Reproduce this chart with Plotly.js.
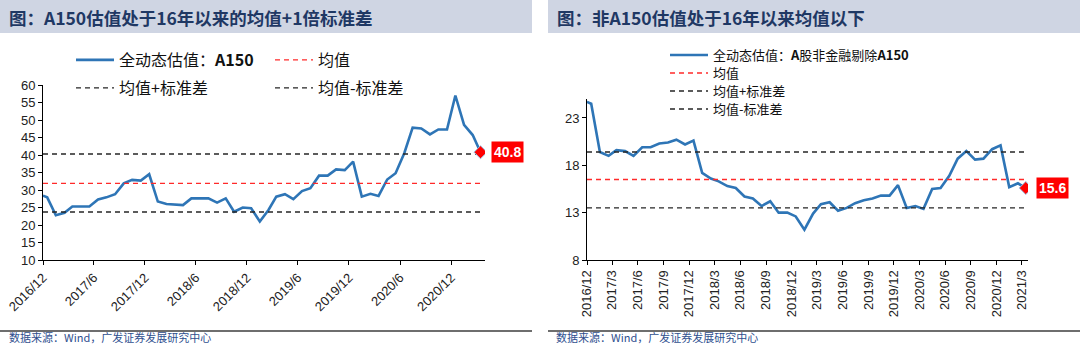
<!DOCTYPE html>
<html>
<head>
<meta charset="utf-8">
<script src="https://cdn.plot.ly/plotly-3.0.1.min.js"></script>
<style>
html,body{margin:0;padding:0;background:#fff;}
#chart{width:1080px;height:352px;}
</style>
</head>
<body>
<div id="chart"></div>
<script>
// ---- data ----
const dates = ["2016-12-01","2016-12-16","2017-01-16","2017-02-16","2017-03-16","2017-04-16","2017-05-16","2017-06-16","2017-07-16","2017-08-16","2017-09-16","2017-10-16","2017-11-16","2017-12-16",
"2018-01-16","2018-02-16","2018-03-16","2018-04-16","2018-05-16","2018-06-16","2018-07-16","2018-08-16","2018-09-16","2018-10-16","2018-11-16","2018-12-16",
"2019-01-16","2019-02-16","2019-03-16","2019-04-16","2019-05-16","2019-06-16","2019-07-16","2019-08-16","2019-09-16","2019-10-16","2019-11-16","2019-12-16",
"2020-01-16","2020-02-16","2020-03-16","2020-04-16","2020-05-16","2020-06-16","2020-07-16","2020-08-16","2020-09-16","2020-10-16","2020-11-16","2020-12-16",
"2021-01-16","2021-02-16","2021-03-16"];

const a150 = [28.4,27.9,22.8,23.5,25.3,25.3,25.3,27.3,27.9,28.8,31.9,32.9,32.7,34.5,
26.7,26.0,25.9,25.7,27.6,27.6,27.6,26.4,27.6,23.8,25.0,24.8,
21.0,24.3,28.1,28.8,27.4,29.7,30.5,34.1,34.1,35.9,35.7,38.1,
28.1,28.9,28.3,33.0,34.8,40.5,47.8,47.6,45.9,47.3,47.3,57.0,
48.6,45.7,40.8];

const nonA150 = [24.7,24.5,19.4,19.0,19.6,19.5,19.0,19.9,19.9,20.3,20.4,20.7,20.2,20.6,
17.2,16.6,16.3,15.8,15.6,14.7,14.5,13.7,14.2,13.0,13.0,12.6,
11.2,12.9,13.9,14.1,13.2,13.5,14.0,14.3,14.5,14.8,14.8,15.9,
13.5,13.7,13.4,15.5,15.6,16.9,18.7,19.5,18.6,18.7,19.7,20.1,
15.7,16.1,15.6];

const a150Stats = [31.9, 40.3, 23.7];   // mean, mean+sd, mean-sd
const nonStats = [16.5, 19.4, 13.5];    // mean, mean+sd, mean-sd

const titleLeft = "图：A150估值处于16年以来的均值+1倍标准差";
const titleRight = "图：非A150估值处于16年以来均值以下";
const sourceText = "数据来源：Wind，广发证券发展研究中心";
const namesLeft = ["全动态估值：<b>A150</b>","均值","均值+标准差","均值-标准差"];
const namesRight = ["全动态估值：<b>A</b>股非金融剔除<b>A150</b>","均值","均值+标准差","均值-标准差"];

// ---- styling ----
const BLUE = "#2e75b6", RED = "#ff2a2a", BLK = "#262626";
const CJK = "Noto Sans CJK SC, Liberation Sans, Arial, sans-serif";
const W = 1080, H = 352;
const px = v => v / W, py = v => 1 - v / H;

const first = dates[0], last = dates[dates.length - 1];
function hline(val, color, name, xa, ya, leg) {
  return {x: [first, last], y: [val, val], mode: "lines", name: name,
    line: {color: color, width: 1.4, dash: "5px,4px"}, xaxis: xa, yaxis: ya,
    legend: leg, hoverinfo: "skip"};
}

const traces = [
  {x: dates, y: a150, mode: "lines", name: namesLeft[0], line: {color: BLUE, width: 2.6},
   xaxis: "x", yaxis: "y", legend: "legend"},
  hline(a150Stats[0], RED, namesLeft[1], "x", "y", "legend2"),
  hline(a150Stats[1], BLK, namesLeft[2], "x", "y", "legend3"),
  hline(a150Stats[2], BLK, namesLeft[3], "x", "y", "legend4"),
  {x: [last], y: [a150[a150.length - 1]], mode: "markers", showlegend: false,
   marker: {symbol: "diamond", color: "#ff0000", size: 10, line: {color: "#9dc3e6", width: 1}},
   xaxis: "x", yaxis: "y"},

  {x: dates, y: nonA150, mode: "lines", name: namesRight[0], line: {color: BLUE, width: 2.6},
   xaxis: "x2", yaxis: "y2", legend: "legend5"},
  hline(nonStats[0], RED, namesRight[1], "x2", "y2", "legend6"),
  hline(nonStats[1], BLK, namesRight[2], "x2", "y2", "legend7"),
  hline(nonStats[2], BLK, namesRight[3], "x2", "y2", "legend8"),
  {x: [last], y: [nonA150[nonA150.length - 1]], mode: "markers", showlegend: false,
   marker: {symbol: "diamond", color: "#ff0000", size: 10, line: {color: "#9dc3e6", width: 1}},
   xaxis: "x2", yaxis: "y2"}
];

const axisCommon = {showgrid: false, zeroline: false, showline: true, linecolor: "#000", linewidth: 1,
  ticks: "outside", ticklen: 4, tickcolor: "#000", tickfont: {family: "Liberation Sans, Arial", size: 13, color: "#222"}};

// legend placement helper: sample start x, row centre y, font size
function leg(xs, yc, fs) {
  return {x: px(xs - 6), y: py(yc - fs - 1), xanchor: "left", yanchor: "top", orientation: "h",
    bgcolor: "rgba(0,0,0,0)", itemwidth: 38, font: {family: CJK, size: fs, color: "#111"}};
}

const layout = {
  width: W, height: H, margin: {l: 0, r: 0, t: 0, b: 0},
  paper_bgcolor: "#fff", plot_bgcolor: "rgba(0,0,0,0)",
  showlegend: true,
  xaxis: Object.assign({}, axisCommon, {type: "date", domain: [px(43), px(485)], anchor: "y",
    range: ["2016-12-01", "2021-04-01"], tick0: "2016-12-01", dtick: "M6", tickformat: "%Y/%-m", tickangle: -45}),
  yaxis: Object.assign({}, axisCommon, {domain: [py(260), py(85)], anchor: "x",
    range: [10, 60], tick0: 10, dtick: 5}),
  xaxis2: Object.assign({}, axisCommon, {type: "date", domain: [px(587), px(1028)], anchor: "y2",
    range: ["2016-12-01", "2021-03-24"], tick0: "2016-12-01", dtick: "M3", tickformat: "%Y/%-m", tickangle: -90}),
  yaxis2: Object.assign({}, axisCommon, {domain: [py(260), py(99)], anchor: "x2",
    range: [8, 25], tick0: 8, dtick: 5}),
  legend: leg(77, 60, 16),
  legend2: leg(276, 60, 16),
  legend3: leg(77, 88, 16),
  legend4: leg(276, 88, 16),
  legend5: leg(671, 54, 13),
  legend6: leg(671, 72, 13),
  legend7: leg(671, 90, 13),
  legend8: leg(671, 108, 13),
  shapes: [
    {type: "rect", xref: "paper", yref: "paper", x0: 0, x1: px(532), y0: py(33), y1: py(0), fillcolor: "#cfd5e3", line: {width: 0}, layer: "below"},
    {type: "rect", xref: "paper", yref: "paper", x0: px(548), x1: 1, y0: py(33), y1: py(0), fillcolor: "#cfd5e3", line: {width: 0}, layer: "below"},
    {type: "line", xref: "paper", yref: "paper", x0: 0, x1: px(532), y0: py(331), y1: py(331), line: {color: "#6e6e6e", width: 2}},
    {type: "line", xref: "paper", yref: "paper", x0: px(548), x1: 1, y0: py(331), y1: py(331), line: {color: "#6e6e6e", width: 2}}
  ],
  annotations: [
    {xref: "paper", yref: "paper", x: px(7), y: py(17), xanchor: "left", yanchor: "middle", showarrow: false,
     text: "<b>" + titleLeft + "</b>", font: {family: CJK, size: 17.5, color: "#1f3864"}},
    {xref: "paper", yref: "paper", x: px(555), y: py(17), xanchor: "left", yanchor: "middle", showarrow: false,
     text: "<b>" + titleRight + "</b>", font: {family: CJK, size: 17.5, color: "#1f3864"}},
    {xref: "paper", yref: "paper", x: px(7), y: py(337), xanchor: "left", yanchor: "middle", showarrow: false,
     text: sourceText, font: {family: CJK, size: 11, color: "#2f4f8f"}},
    {xref: "paper", yref: "paper", x: px(554), y: py(337), xanchor: "left", yanchor: "middle", showarrow: false,
     text: sourceText, font: {family: CJK, size: 11, color: "#2f4f8f"}},
    {xref: "x", yref: "y", x: last, y: a150[a150.length - 1], xanchor: "left", yanchor: "middle", xshift: 10,
     showarrow: false, text: "<b>" + a150[a150.length - 1].toFixed(1) + "</b>", bgcolor: "#ff0000",
     borderpad: 2, font: {family: "Liberation Sans, Arial", size: 14, color: "#fff"}},
    {xref: "x2", yref: "y2", x: last, y: nonA150[nonA150.length - 1], xanchor: "left", yanchor: "middle", xshift: 10,
     showarrow: false, text: "<b>" + nonA150[nonA150.length - 1].toFixed(1) + "</b>", bgcolor: "#ff0000",
     borderpad: 2, font: {family: "Liberation Sans, Arial", size: 14, color: "#fff"}}
  ]
};

Plotly.newPlot("chart", traces, layout, {staticPlot: true, displayModeBar: false});
</script>
</body>
</html>
